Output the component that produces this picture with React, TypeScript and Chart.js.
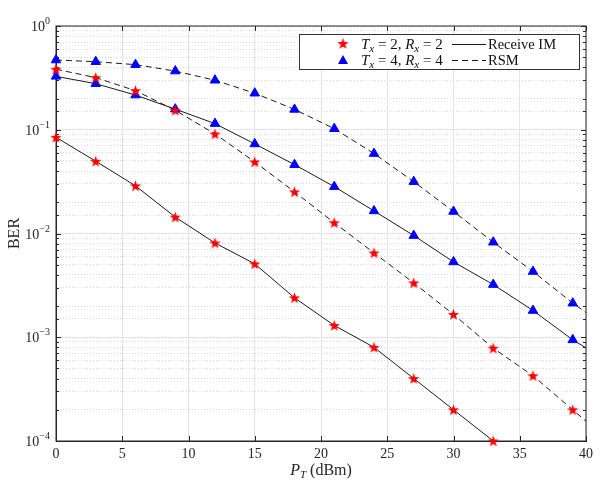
// @ts-nocheck
import { useEffect, useRef } from "react";
import { Chart, registerables } from "chart.js";
Chart.register(...registerables);

// transmit power (dBm); markers every 3 dB, last point (40) only closes the line
const powerDbm = [0, 3, 6, 9, 12, 15, 18, 21, 24, 27, 30, 33, 36, 39, 40];

const berIm2 = [0.0846, 0.0497, 0.0288, 0.0144, 0.0081, 0.0051, 0.0024, 0.0013, 0.0008, 0.0004, 0.0002, 0.0001];
const berRsm2 = [0.383, 0.318, 0.238, 0.154, 0.091, 0.049, 0.0252, 0.0127, 0.0065, 0.00334, 0.00166, 0.000785, 0.000425, 0.0002, 0.000155];
const berIm4 = [0.327, 0.278, 0.216, 0.158, 0.1146, 0.073, 0.0461, 0.0283, 0.0165, 0.00955, 0.00532, 0.00322, 0.00181, 0.000944, 0.00079];
const berRsm4 = [0.47, 0.453, 0.424, 0.368, 0.3, 0.225, 0.157, 0.1025, 0.0589, 0.0316, 0.0163, 0.00824, 0.0043, 0.00213, 0.00173];

const yDecades = [1, 0.1, 0.01, 0.001, 0.0001];
const yExponents = ["0", "\u22121", "\u22122", "\u22123", "\u22124"];
const xTicks = [0, 5, 10, 15, 20, 25, 30, 35, 40];

const serif = '"Liberation Serif", "DejaVu Serif", serif';
const axisColor = "#262626";
const dashed = [6, 4];

const isDecade = (v) => Math.abs(Math.log10(v) - Math.round(Math.log10(v))) < 1e-6;

let starImage = null;
function getStar() {
  if (starImage) return starImage;
  const c = document.createElement("canvas");
  c.width = 13;
  c.height = 13;
  const g = c.getContext("2d");
  g.beginPath();
  for (let i = 0; i < 10; i++) {
    const r = i % 2 === 0 ? 6 : 2.4;
    const a = -Math.PI / 2 + (i * Math.PI) / 5;
    const px = 6.5 + r * Math.cos(a);
    const py = 7 + r * Math.sin(a);
    if (i === 0) g.moveTo(px, py);
    else g.lineTo(px, py);
  }
  g.closePath();
  g.fillStyle = "#ff0000";
  g.fill();
  starImage = c;
  return c;
}

function drawRuns(ctx, x, y, runs, align) {
  let total = 0;
  const fonts = runs.map((r) => `${r.italic ? "italic " : ""}${r.size}px ${serif}`);
  const widths = runs.map((r, i) => {
    ctx.font = fonts[i];
    const w = ctx.measureText(r.text).width;
    total += w;
    return w;
  });
  let cx = align === "center" ? x - total / 2 : align === "right" ? x - total : x;
  runs.forEach((r, i) => {
    ctx.font = fonts[i];
    ctx.fillText(r.text, cx, y + (r.dy || 0));
    cx += widths[i];
  });
}

const pairLabel = (n) => [
  { text: "T", italic: true, size: 15 },
  { text: "x", italic: true, size: 11, dy: 3 },
  { text: ` = ${n}, `, size: 15 },
  { text: "R", italic: true, size: 15 },
  { text: "x", italic: true, size: 11, dy: 3 },
  { text: ` = ${n}`, size: 15 },
];

const frame = {
  id: "frame",
  beforeDatasetsDraw(chart) {
    const { ctx, chartArea: a, scales } = chart;
    ctx.save();
    ctx.strokeStyle = axisColor;
    ctx.lineWidth = 1;
    ctx.setLineDash([]);
    ctx.strokeRect(a.left, a.top, a.right - a.left, a.bottom - a.top);
    ctx.beginPath();
    xTicks.forEach((v) => {
      const px = Math.round(scales.x.getPixelForValue(v)) + 0.5;
      ctx.moveTo(px, a.bottom);
      ctx.lineTo(px, a.bottom - 5);
      ctx.moveTo(px, a.top);
      ctx.lineTo(px, a.top + 5);
    });
    scales.y.ticks.forEach((t) => {
      const py = Math.round(scales.y.getPixelForValue(t.value)) + 0.5;
      const len = isDecade(t.value) ? 5 : 3;
      ctx.moveTo(a.left, py);
      ctx.lineTo(a.left + len, py);
      ctx.moveTo(a.right, py);
      ctx.lineTo(a.right - len, py);
    });
    ctx.stroke();

    // y labels 10^n
    ctx.fillStyle = axisColor;
    ctx.textBaseline = "alphabetic";
    yDecades.forEach((v, i) => {
      const py = scales.y.getPixelForValue(v);
      drawRuns(ctx, a.left - 6, py + 5, [
        { text: "10", size: 14 },
        { text: yExponents[i], size: 10, dy: -7 },
      ], "right");
    });

    // axis titles
    drawRuns(ctx, (a.left + a.right) / 2, 475, [
      { text: "P", italic: true, size: 16 },
      { text: "T", italic: true, size: 11, dy: 3 },
      { text: " (dBm)", size: 16 },
    ], "center");
    ctx.save();
    ctx.translate(19, (a.top + a.bottom) / 2);
    ctx.rotate(-Math.PI / 2);
    drawRuns(ctx, 0, 0, [{ text: "BER", size: 16 }], "center");
    ctx.restore();
    ctx.restore();
  },
  afterDatasetsDraw(chart) {
    const { ctx } = chart;
    const star = getStar();
    ctx.save();
    const bx = 299, by = 34, bw = 280, bh = 35;
    ctx.fillStyle = "#ffffff";
    ctx.fillRect(bx, by, bw, bh);
    ctx.strokeStyle = "#333333";
    ctx.lineWidth = 1;
    ctx.strokeRect(bx + 0.5, by + 0.5, bw, bh);

    const rows = [
      { y: 44, n: 2, dash: [], text: "Receive IM" },
      { y: 60, n: 4, dash: dashed, text: "RSM" },
    ];
    rows.forEach((r, i) => {
      if (i === 0) ctx.drawImage(star, 343 - 6.5, r.y - 7);
      else {
        ctx.beginPath();
        ctx.moveTo(343, r.y - 5);
        ctx.lineTo(348, r.y + 4);
        ctx.lineTo(338, r.y + 4);
        ctx.closePath();
        ctx.fillStyle = "#0000ff";
        ctx.fill();
      }
      ctx.fillStyle = "#111111";
      ctx.textBaseline = "alphabetic";
      drawRuns(ctx, 361, r.y + 5, pairLabel(r.n), "left");
      ctx.strokeStyle = "#1a1a1a";
      ctx.setLineDash(r.dash);
      ctx.beginPath();
      ctx.moveTo(452, r.y + 0.5);
      ctx.lineTo(486, r.y + 0.5);
      ctx.stroke();
      ctx.setLineDash([]);
      drawRuns(ctx, 488, r.y + 5, [{ text: r.text, size: 14.5 }], "left");
    });
    ctx.restore();
  },
};

export default function App() {
  const chartRef = useRef(null);
  const chartInstance = useRef(null);

  useEffect(() => {
    const ctx = chartRef.current?.getContext("2d");
    const star = getStar();
    const series = (values) => values.map((v, i) => ({ x: powerDbm[i], y: v }));
    const markerRadius = (c) => (powerDbm[c.dataIndex] % 3 === 0 ? 5.5 : 0);

    chartInstance.current = new Chart(ctx, {
      type: "line",
      data: {
        datasets: [
          { label: "Tx=2,Rx=2 Receive IM", data: series(berIm2), borderColor: "#1a1a1a", borderWidth: 1, pointStyle: star, pointRadius: markerRadius, backgroundColor: "#ff0000" },
          { label: "Tx=2,Rx=2 RSM", data: series(berRsm2), borderColor: "#1a1a1a", borderWidth: 1, borderDash: dashed, pointStyle: star, pointRadius: markerRadius, backgroundColor: "#ff0000" },
          { label: "Tx=4,Rx=4 Receive IM", data: series(berIm4), borderColor: "#1a1a1a", borderWidth: 1, pointStyle: "triangle", pointRadius: markerRadius, pointBackgroundColor: "#0000ff", pointBorderColor: "#0000ff", pointBorderWidth: 1 },
          { label: "Tx=4,Rx=4 RSM", data: series(berRsm4), borderColor: "#1a1a1a", borderWidth: 1, borderDash: dashed, pointStyle: "triangle", pointRadius: markerRadius, pointBackgroundColor: "#0000ff", pointBorderColor: "#0000ff", pointBorderWidth: 1 },
        ],
      },
      options: {
        animation: false,
        responsive: true,
        maintainAspectRatio: false,
        clip: false,
        layout: { padding: { left: 0, top: 26, right: 21, bottom: 0 } },
        plugins: { legend: { display: false }, tooltip: { enabled: false } },
        elements: { line: { tension: 0 } },
        scales: {
          x: {
            type: "linear",
            min: 0,
            max: 40,
            afterFit: (s) => { s.height = 44; },
            ticks: { stepSize: 5, padding: 5, color: axisColor, font: { family: serif, size: 14 } },
            grid: { color: "#e4e4e4", drawTicks: false },
            border: { color: axisColor },
          },
          y: {
            type: "logarithmic",
            min: 0.0001,
            max: 1,
            afterFit: (s) => { s.width = 56; },
            ticks: { display: false, autoSkip: false },
            grid: {
              drawTicks: false,
              color: (c) => (c.tick && !isDecade(c.tick.value) ? "#d8d8d8" : "#e4e4e4"),
            },
            border: {
              color: axisColor,
              dash: (c) => (c.tick && !isDecade(c.tick.value) ? [1, 2] : []),
            },
          },
        },
      },
      plugins: [frame],
    });

    return () => {
      chartInstance.current?.destroy();
    };
  }, []);

  return (
    <div style={{ position: "absolute", left: 0, top: 0, width: 607, height: 485, background: "#fff" }}>
      <canvas ref={chartRef} />
    </div>
  );
}
